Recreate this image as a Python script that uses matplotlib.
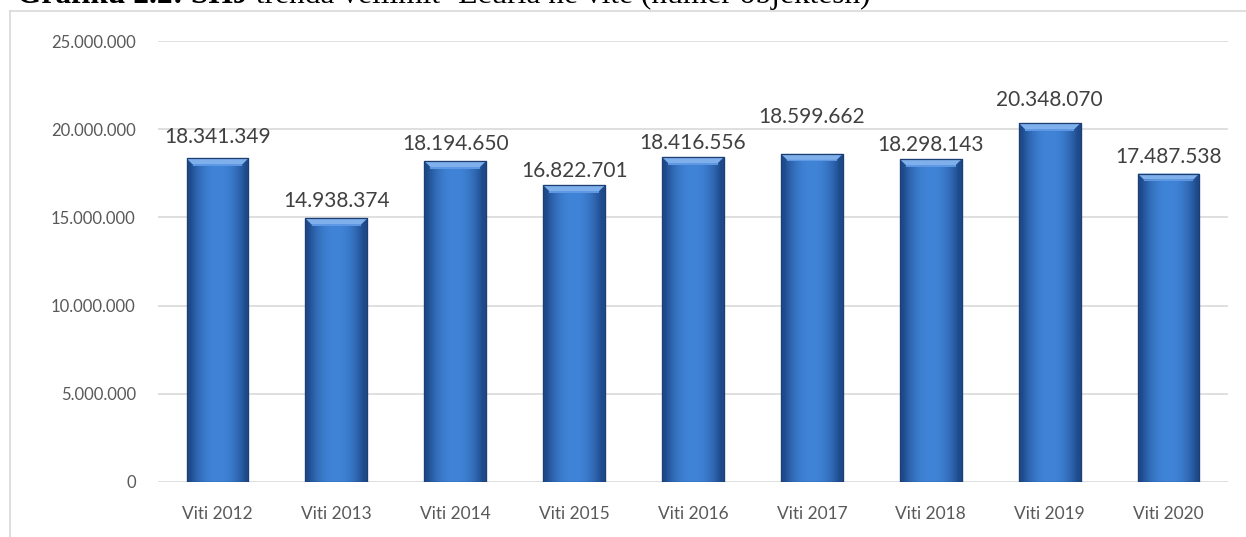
import numpy as np
import matplotlib.pyplot as plt
from matplotlib.patches import Rectangle

categories = ['Viti 2012', 'Viti 2013', 'Viti 2014', 'Viti 2015', 'Viti 2016',
              'Viti 2017', 'Viti 2018', 'Viti 2019', 'Viti 2020']
values = [18341349, 14938374, 18194650, 16822701, 18416556,
          18599662, 18298143, 20348070, 17487538]
yticks = [0, 5000000, 10000000, 15000000, 20000000, 25000000]
title_bold = 'Grafiku 2.2: SHJ'
title_rest = ' trenda vëllimit- Ecuria në vite (numër objektesh)'

# label lift above the bar top, in pixels (some labels were moved by hand)
label_lift = [21, 17, 17, 14, 14, 37, 14, 23, 17]


def fmt(v):
    return f'{v:,}'.replace(',', '.')


def main():
    plt.rcParams['font.family'] = ['Lato', 'DejaVu Sans']
    fig = plt.figure(figsize=(12.46, 5.37), dpi=100)
    W, H = 1246, 537
    ax = fig.add_axes([158 / W, 1 - 482 / H, (1228 - 158) / W, (482 - 41) / H])

    x = np.arange(len(categories))
    bars = ax.bar(x, values, width=0.52, color='#3b7dd0', edgecolor='#1d467e',
                  linewidth=0.8, zorder=3)

    # gradient fill like the office bevel bars
    grad = np.linspace(0, 1, 64)
    shade = np.clip(1 - 1.4 * np.abs(grad - 0.5) ** 2.2 * 4, 0, 1)
    img = np.zeros((2, 64, 3))
    base = np.array([0x40, 0x84, 0xd8]) / 255
    dark = np.array([0x1e, 0x4a, 0x8a]) / 255
    for i, s in enumerate(shade):
        img[:, i, :] = dark + (base - dark) * s
    px = 25000000 / 441
    for b in bars:
        x0, w, h = b.get_x(), b.get_width(), b.get_height()
        im = ax.imshow(img, extent=(x0, x0 + w, 0, h), aspect='auto',
                       zorder=3.5, interpolation='bilinear')
        im.set_clip_path(b)
        # top bevel
        bev = 6 * px
        ax.fill([x0, x0 + w, x0 + w - w * 0.1, x0 + w * 0.1],
                [h, h, h - bev, h - bev], color='#7fb0ec', zorder=4, lw=0)
        ax.fill([x0 + w * 0.1, x0 + w * 0.9, x0 + w * 0.9, x0 + w * 0.1],
                [h - bev, h - bev, h - bev - 1.5 * px, h - bev - 1.5 * px],
                color='#5f98e2', zorder=4, lw=0)
        ax.add_patch(Rectangle((x0, 0), w, h, fill=False, edgecolor='#1b3f72',
                               lw=0.9, zorder=5))
        # shadow
        ax.add_patch(Rectangle((x0 + w * 0.02, -4 * px), w * 0.98, 4 * px,
                               color='#cfcfcf', zorder=2, lw=0))

    for xi, v, lift in zip(x, values, label_lift):
        ax.annotate(fmt(v), (xi, v), xytext=(0, lift * 0.72),
                    textcoords='offset points', ha='center', va='center',
                    fontsize=15, color='#404040')

    ax.set_ylim(0, 25000000)
    ax.set_xlim(-0.5, len(categories) - 0.5)
    ax.set_yticks(yticks)
    ax.set_yticklabels([fmt(t) for t in yticks], fontsize=12, color='#595959')
    ax.set_xticks(x)
    ax.set_xticklabels(categories, fontsize=12.5, color='#595959')
    ax.tick_params(length=0)
    ax.tick_params(axis='y', pad=16)
    ax.tick_params(axis='x', pad=17)
    ax.grid(axis='y', color='#d9d9d9', lw=1.2, zorder=0)
    for sp in ax.spines.values():
        sp.set_visible(False)

    # chart frame
    fig.add_artist(plt.Line2D([10 / W, 10 / W], [0, 1 - 11 / H], color='#d9d9d9',
                              lw=1.2, transform=fig.transFigure))
    fig.add_artist(plt.Line2D([10 / W, 1], [1 - 11 / H, 1 - 11 / H], color='#d9d9d9',
                              lw=1.2, transform=fig.transFigure))

    # title, cut off at the top edge; sized so it spans about 17..867 px
    fs = 22
    t1 = fig.text(17 / W, 1 - 3 / H, title_bold, ha='left', va='baseline',
                  fontsize=fs, family='Liberation Serif', weight='bold', color='#000000')
    fig.canvas.draw()
    bb = t1.get_window_extent()
    t2 = fig.text(bb.x1 / W, 1 - 3 / H, title_rest, ha='left', va='baseline',
                  fontsize=fs, family='Liberation Serif', color='#000000')
    fig.canvas.draw()
    total = t2.get_window_extent().x1 - 17
    fs = fs * 850 / total
    t1.set_fontsize(fs)
    t2.set_fontsize(fs)
    fig.canvas.draw()
    t2.set_x(t1.get_window_extent().x1 / W)

    plt.savefig('out.png', dpi=100, facecolor='white')
    plt.close()


if __name__ == '__main__':
    main()
